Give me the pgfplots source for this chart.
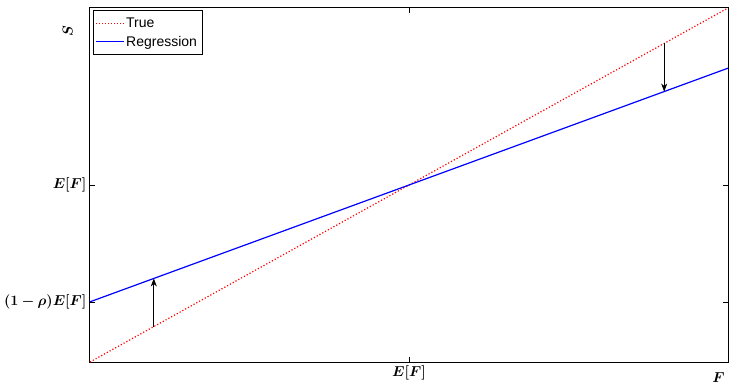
\documentclass[border=0pt]{standalone}
\usepackage{pgfplots}
\pgfplotsset{compat=1.18}
\usetikzlibrary{arrows.meta}
\usepackage{amsmath}
\usepackage{bm}
\usepackage{fontspec}
\newfontfamily\arial{Liberation Sans}
\begin{document}
\begin{tikzpicture}[x=1pt,y=1pt]
\begin{axis}[
  scale only axis, width=638pt, height=354pt,
  xmin=0, xmax=2, ymin=0, ymax=2,
  xtick={1}, xticklabels={$\bm{E[F]}$},
  ytick={0.34,1}, yticklabels={$\bm{(1-\rho)E[F]}$,$\bm{E[F]}$},
  tick align=inside, major tick length=5pt,
  tick label style={font=\fontsize{13.8}{16}\selectfont},
  axis line style={line width=1pt},
  tick style={black, line width=0.6pt},
  xlabel={$\bm{F}$}, ylabel={$\bm{S}$},
  label style={font=\fontsize{13.8}{16}\selectfont},
  xlabel style={at={(axis description cs:0.985,-0.045)}, anchor=center},
  ylabel style={at={(axis description cs:-0.035,0.935)}, anchor=center, rotate=0},
  legend style={at={(axis description cs:0.004,0.993)}, anchor=north west, font=\arial\fontsize{14}{16}\selectfont, draw=black, line width=0.6pt, inner xsep=3pt, inner ysep=5pt, row sep=3pt, legend cell align=left},
  legend image post style={line width=1pt, xscale=1.6},
  clip=false,
]
\addplot[red, dotted, line width=1.2pt] coordinates {(0,0) (2,2)};
\addlegendentry{True}
\addplot[blue, line width=1.2pt] coordinates {(0,0.34) (2,1.66)};
\addlegendentry{Regression}
\addplot[black, line width=0.7pt, -{Stealth[length=8pt,width=6pt,inset=2.5pt]}, forget plot] coordinates {(0.2,0.2) (0.2,0.472)};
\addplot[black, line width=0.7pt, -{Stealth[length=8pt,width=6pt,inset=2.5pt]}, forget plot] coordinates {(1.8,1.8) (1.8,1.528)};
\end{axis}
\path (current axis.south west) ++(-90pt,-22pt) coordinate (bl);
\path (current axis.north east) ++(2pt,8pt) coordinate (tr);
\useasboundingbox (bl) rectangle (tr);
\end{tikzpicture}
\end{document}
